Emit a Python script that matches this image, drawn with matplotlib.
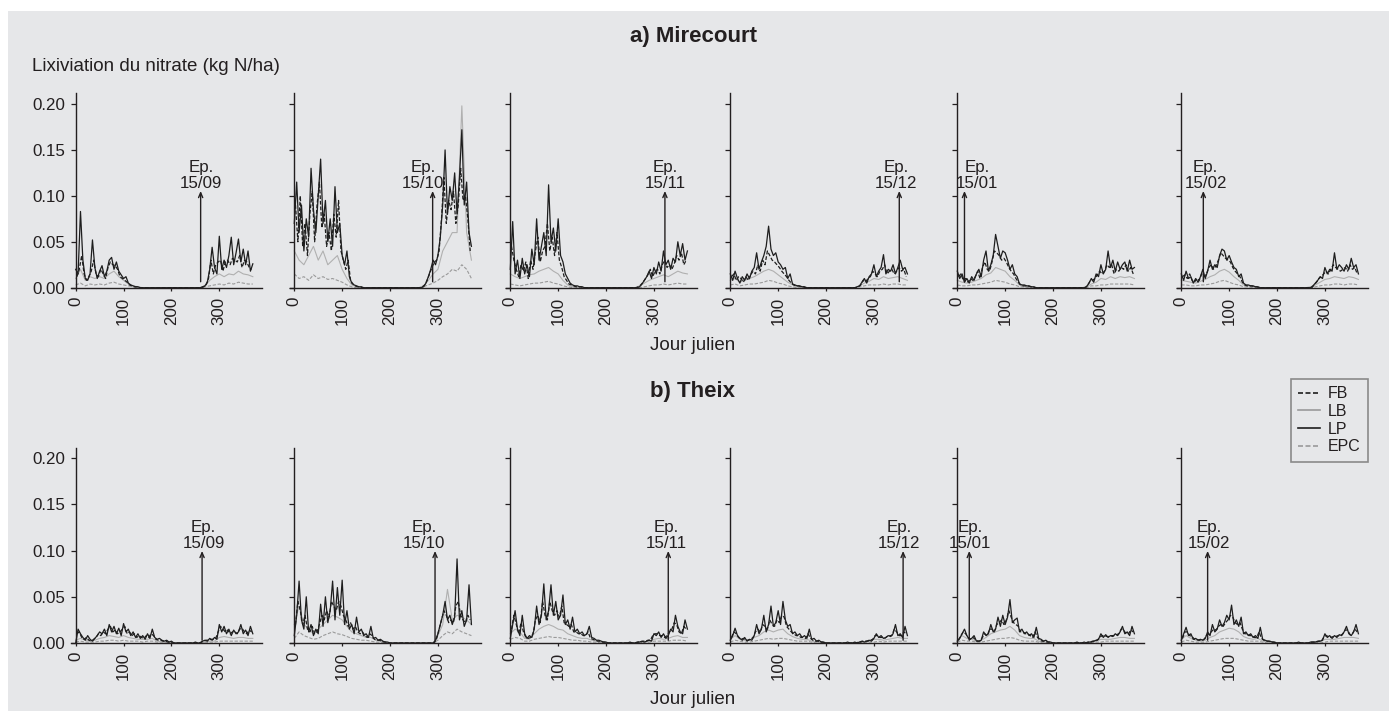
import numpy as np
import matplotlib.pyplot as plt
from matplotlib.axes import Axes
from matplotlib.lines import Line2D
from matplotlib.patches import Rectangle

plt.rcParams['font.family'] = ['Liberation Sans', 'DejaVu Sans']

# leaching values in thousandths of kg N/ha
# LP and FB every 5 days (FB offset by 2.5 days), LB and EPC every 10 days
x5 = np.arange(0, 371, 5)
xfb = np.arange(2.5, 370, 5)
x10 = np.arange(0, 371, 10)

dates = ["15/09", "15/10", "15/11", "15/12", "15/01", "15/02"]

mir_lp = [
    [20, 15, 83, 30, 10, 8, 15, 52, 22, 10, 18, 24, 12, 18, 30, 33, 20, 28, 18, 14, 10, 12, 5, 3, 2, 1, 1]
    + [0] * 26 + [1, 2, 6, 20, 44, 22, 15, 56, 20, 30, 22, 35, 55, 25, 38, 53, 28, 42, 25, 40, 18, 26],
    [70, 115, 60, 90, 40, 75, 55, 130, 85, 60, 100, 140, 70, 95, 50, 75, 45, 110, 60, 70, 35, 25, 40, 12, 5, 3, 2, 1, 1]
    + [0] * 25 + [1, 5, 12, 20, 30, 25, 35, 55, 90, 150, 80, 110, 95, 125, 80, 120, 172, 90, 115, 60, 45],
    [20, 72, 15, 30, 10, 32, 15, 25, 12, 42, 25, 75, 30, 45, 60, 35, 112, 50, 65, 40, 75, 35, 28, 15, 10, 5, 3, 2, 2, 1, 1]
    + [0] * 23 + [1, 4, 8, 12, 18, 10, 22, 15, 28, 18, 40, 25, 30, 20, 32, 28, 50, 35, 48, 30, 40],
    [15, 8, 18, 10, 5, 12, 8, 15, 10, 18, 22, 38, 20, 28, 35, 45, 67, 42, 35, 38, 28, 25, 20, 22, 10, 15, 4, 3, 2, 2, 1, 1]
    + [0] * 21 + [1, 2, 6, 10, 5, 12, 15, 25, 12, 18, 22, 36, 15, 20, 18, 25, 15, 22, 30, 20, 22, 15],
    [18, 10, 15, 6, 10, 5, 12, 8, 15, 20, 12, 30, 40, 18, 25, 35, 58, 45, 32, 40, 38, 30, 20, 25, 15, 12, 4, 3, 3, 2, 2, 1, 1]
    + [0] * 21 + [1, 5, 10, 6, 15, 12, 25, 15, 20, 40, 22, 30, 18, 28, 20, 25, 28, 18, 30, 20, 22],
    [15, 8, 18, 10, 12, 5, 10, 6, 12, 20, 10, 18, 30, 20, 25, 22, 35, 42, 40, 30, 35, 28, 22, 20, 12, 15, 5, 3, 3, 2, 2, 1, 1]
    + [0] * 22 + [2, 5, 8, 12, 10, 22, 15, 20, 18, 38, 20, 25, 22, 18, 25, 20, 32, 22, 25, 15],
]
mir_fb = [
    [12, 20, 35, 15, 8, 12, 18, 30, 15, 12, 20, 15, 10, 22, 28, 25, 24, 20, 12, 10, 8, 6, 3, 2, 1, 1]
    + [0] * 27 + [1, 3, 10, 30, 15, 25, 28, 30, 18, 28, 30, 25, 32, 30, 28, 35, 22, 30, 28, 22, 20],
    [90, 50, 100, 45, 70, 35, 80, 105, 50, 90, 115, 65, 80, 45, 60, 40, 80, 55, 95, 40, 30, 20, 30, 8, 4, 2, 1, 1]
    + [0] * 25 + [1, 3, 8, 15, 22, 28, 30, 40, 75, 120, 70, 95, 85, 105, 70, 90, 130, 95, 100, 75, 40],
    [45, 30, 20, 12, 25, 18, 28, 10, 30, 20, 40, 55, 28, 40, 45, 70, 40, 55, 35, 60, 30, 22, 12, 8, 4, 3, 2, 1, 1, 1]
    + [0] * 23 + [1, 3, 6, 10, 14, 20, 12, 18, 20, 15, 25, 30, 22, 25, 20, 26, 35, 30, 38, 25, 30],
    [12, 15, 8, 12, 10, 6, 12, 8, 14, 18, 15, 25, 18, 30, 25, 40, 35, 30, 28, 25, 22, 18, 15, 12, 8, 5, 3, 2, 2, 1, 1]
    + [0] * 22 + [1, 3, 8, 6, 10, 12, 18, 15, 12, 18, 20, 25, 15, 18, 20, 15, 18, 22, 18, 20, 12],
    [12, 15, 8, 10, 6, 10, 8, 12, 18, 10, 22, 28, 20, 18, 28, 40, 38, 35, 30, 32, 28, 22, 18, 15, 10, 6, 3, 2, 2, 2, 1, 1]
    + [0] * 22 + [3, 7, 8, 10, 14, 18, 15, 18, 25, 22, 25, 15, 20, 18, 22, 20, 25, 18, 22, 15],
    [12, 14, 10, 15, 8, 6, 10, 8, 15, 12, 15, 22, 25, 20, 24, 30, 38, 35, 32, 30, 28, 22, 18, 15, 12, 6, 3, 2, 2, 2, 1, 1]
    + [0] * 23 + [3, 6, 10, 12, 15, 18, 15, 20, 25, 22, 20, 18, 20, 22, 18, 25, 20, 22, 15],
]
mir_lb = [
    [10, 20, 8, 12, 10, 12, 10, 15, 18, 12, 8, 4, 2, 1] + [0] * 13 + [2, 8, 12, 15, 12, 15, 14, 18, 15, 14, 12],
    [40, 30, 25, 35, 45, 30, 40, 25, 30, 35, 20, 10, 3, 1] + [0] * 13 + [2, 8, 15, 20, 40, 50, 60, 60, 198, 60, 30],
    [15, 12, 10, 12, 14, 15, 18, 20, 22, 18, 15, 8, 3, 1] + [0] * 13 + [2, 5, 8, 10, 12, 14, 12, 15, 18, 16, 15],
    [8, 10, 6, 8, 10, 12, 15, 18, 20, 18, 14, 10, 6, 3, 1] + [0] * 12 + [2, 5, 7, 10, 9, 12, 10, 11, 12, 10, 8],
    [8, 6, 5, 6, 8, 10, 14, 16, 22, 20, 18, 12, 8, 3, 2, 1] + [0] * 11 + [1, 4, 6, 10, 9, 12, 10, 12, 11, 12, 10],
    [8, 7, 6, 5, 7, 9, 12, 14, 18, 20, 17, 12, 8, 3, 2, 1] + [0] * 11 + [1, 3, 6, 9, 10, 12, 11, 10, 12, 11, 9],
]
mir_epc = [
    [3, 5, 2, 4, 3, 4, 3, 5, 6, 4, 3, 2, 1, 0] + [0] * 13 + [1, 2, 3, 4, 3, 5, 4, 6, 5, 4, 4],
    [15, 10, 12, 8, 14, 10, 12, 9, 10, 8, 6, 3, 1, 0] + [0] * 13 + [1, 3, 5, 8, 12, 15, 20, 18, 25, 20, 10],
    [4, 3, 2, 3, 4, 5, 5, 6, 7, 5, 4, 2, 1, 0] + [0] * 13 + [0, 1, 2, 3, 3, 4, 3, 4, 5, 4, 4],
    [3, 4, 2, 3, 4, 4, 5, 6, 8, 7, 5, 4, 2, 1, 0] + [0] * 12 + [1, 2, 3, 3, 3, 4, 3, 4, 4, 3, 3],
    [3, 2, 2, 3, 3, 4, 5, 6, 8, 7, 6, 4, 3, 1, 1, 0] + [0] * 11 + [0, 2, 2, 3, 3, 4, 4, 4, 4, 4, 3],
    [3, 3, 2, 2, 3, 3, 4, 5, 7, 8, 6, 4, 3, 1, 1, 0] + [0] * 11 + [0, 1, 2, 3, 3, 4, 4, 3, 4, 4, 3],
]

the_lp = [
    [0, 15, 10, 6, 3, 8, 4, 2, 5, 8, 12, 10, 15, 8, 20, 12, 18, 10, 16, 8, 21, 12, 15, 8, 12, 6, 10, 5, 8, 4,
     10, 5, 15, 6, 4, 5, 3, 2, 3, 1, 2]
    + [0] * 9 + [1, 0, 0, 2, 3, 2, 5, 3, 6, 4, 20, 12, 18, 10, 15, 8, 14, 10, 12, 20, 10, 14, 8, 18, 10],
    [8, 30, 67, 25, 15, 50, 12, 20, 8, 15, 10, 42, 18, 50, 22, 35, 67, 25, 60, 30, 68, 20, 35, 15, 20, 10, 28, 12,
     15, 8, 10, 6, 18, 5, 6, 3, 4, 2, 1, 1]
    + [0] * 19 + [3, 10, 20, 30, 45, 25, 30, 20, 28, 91, 25, 35, 18, 25, 63, 20],
    [5, 20, 35, 15, 8, 30, 10, 5, 8, 6, 15, 40, 20, 30, 64, 25, 35, 63, 30, 45, 25, 30, 52, 20, 25, 15, 28, 12, 15,
     10, 12, 8, 10, 18, 6, 5, 3, 3, 2, 1, 1]
    + [0] * 9 + [1, 0, 0, 1, 1, 2, 1, 2, 3, 2, 10, 8, 12, 6, 10, 5, 8, 15, 12, 30, 18, 12, 10, 25, 15],
    [3, 8, 16, 8, 5, 3, 6, 2, 4, 3, 8, 20, 10, 15, 30, 12, 20, 40, 18, 22, 35, 20, 45, 25, 18, 20, 10, 12, 8, 10,
     6, 8, 5, 15, 4, 5, 2, 3, 1, 1]
    + [0] * 9 + [1, 0, 0, 1, 0, 1, 2, 1, 2, 3, 2, 5, 10, 6, 8, 5, 6, 8, 7, 10, 20, 8, 10, 6, 18, 8],
    [2, 5, 10, 15, 8, 4, 5, 8, 2, 2, 3, 12, 8, 10, 20, 12, 15, 28, 18, 30, 20, 28, 47, 22, 25, 27, 12, 15, 10, 12,
     8, 10, 6, 17, 5, 4, 2, 3, 1, 1]
    + [0] * 10 + [1, 0, 0, 1, 0, 1, 1, 2, 3, 4, 10, 6, 9, 6, 8, 7, 10, 8, 12, 18, 10, 12, 8, 18, 10],
    [3, 10, 17, 8, 10, 4, 5, 3, 4, 3, 5, 12, 8, 20, 12, 15, 25, 18, 22, 30, 25, 41, 20, 25, 18, 28, 10, 12, 8, 10,
     6, 8, 5, 17, 4, 3, 2, 2, 1, 1]
    + [0] * 9 + [1, 0, 0, 0, 0] + [1, 1, 1, 2, 2, 3, 10, 6, 8, 5, 8, 6, 9, 8, 12, 18, 10, 8, 12, 20, 10],
]
the_fb = [
    [10, 12, 6, 4, 6, 3, 2, 4, 6, 10, 8, 12, 10, 15, 18, 12, 14, 10, 12, 15, 18, 10, 12, 8, 10, 6, 8, 6, 5, 8,
     6, 10, 8, 4, 3, 3, 2, 2, 1, 1]
    + [0] * 12 + [1, 2, 3, 3, 4, 4, 5, 12, 18, 15, 12, 14, 10, 12, 12, 10, 15, 16, 12, 10, 14, 12],
    [20, 45, 35, 20, 30, 15, 12, 18, 10, 12, 20, 30, 25, 35, 28, 45, 40, 35, 45, 40, 30, 25, 18, 22, 15, 18, 12,
     10, 12, 8, 6, 10, 8, 4, 3, 3, 2, 1, 1]
    + [0] * 20 + [5, 15, 25, 35, 30, 22, 25, 22, 40, 45, 30, 25, 22, 30, 25],
    [15, 30, 20, 10, 22, 12, 6, 5, 6, 10, 25, 30, 22, 45, 30, 25, 45, 35, 30, 35, 28, 40, 22, 20, 18, 20, 12, 12,
     10, 10, 8, 8, 12, 5, 4, 3, 2, 2, 1, 1]
    + [0] * 13 + [1, 1, 2, 2, 3, 3, 8, 10, 10, 8, 8, 6, 8, 12, 15, 22, 20, 12, 10, 18, 15],
    [6, 12, 10, 6, 4, 5, 3, 3, 4, 6, 12, 15, 12, 20, 18, 15, 25, 20, 18, 25, 22, 30, 28, 18, 15, 12, 10, 8, 8, 6,
     6, 5, 10, 5, 3, 2, 2, 1, 1]
    + [0] * 14 + [1, 1, 2, 2, 2, 3, 4, 8, 8, 6, 6, 5, 7, 8, 8, 15, 12, 8, 8, 12, 10],
    [3, 8, 12, 10, 6, 4, 6, 4, 2, 2, 6, 10, 8, 15, 15, 12, 20, 22, 25, 20, 25, 35, 28, 22, 20, 18, 12, 12, 10, 10,
     8, 6, 12, 6, 3, 2, 2, 1, 1]
    + [0] * 15 + [1, 1, 2, 2, 3, 6, 8, 8, 7, 7, 8, 8, 9, 10, 15, 14, 10, 10, 14, 12],
    [5, 12, 12, 8, 7, 4, 4, 3, 3, 4, 8, 10, 12, 15, 14, 18, 20, 18, 22, 25, 30, 28, 22, 20, 22, 15, 10, 10, 8, 8,
     6, 6, 12, 5, 3, 2, 2, 1, 1]
    + [0] * 15 + [1, 1, 1, 2, 2, 6, 8, 7, 6, 7, 7, 8, 8, 10, 14, 14, 9, 10, 15, 12],
]
the_lb = [
    [3, 5, 3, 2, 3, 5, 6, 8, 7, 6, 8, 6, 5, 4, 4, 4, 5, 2, 1, 1, 0] + [0] * 6 + [1, 2, 2, 6, 7, 6, 5, 6, 6, 5, 5],
    [20, 40, 20, 15, 10, 15, 20, 25, 30, 28, 25, 18, 12, 10, 8, 6, 6, 3, 2, 1] + [0] * 10 + [8, 20, 58, 25, 30, 28, 25, 20],
    [10, 15, 12, 5, 4, 10, 15, 18, 20, 18, 15, 14, 10, 8, 6, 5, 5, 3, 2, 1, 0] + [0] * 6 + [1, 1, 2, 4, 5, 4, 5, 7, 8, 6, 6],
    [4, 8, 4, 3, 3, 6, 8, 12, 14, 12, 14, 15, 10, 7, 5, 4, 4, 2, 1, 1, 0] + [0] * 6 + [1, 1, 2, 4, 4, 3, 4, 5, 6, 5, 5],
    [3, 8, 5, 4, 2, 3, 6, 10, 12, 14, 15, 18, 14, 8, 6, 5, 5, 2, 1, 1, 0] + [0] * 6 + [0, 1, 2, 4, 4, 4, 5, 6, 6, 5, 5],
    [4, 8, 5, 3, 2, 3, 6, 8, 12, 14, 16, 15, 12, 7, 5, 4, 5, 2, 1, 1, 0] + [0] * 6 + [0, 1, 1, 4, 4, 4, 5, 6, 6, 6, 5],
]
the_epc = [
    [1, 2, 1, 1, 1, 2, 2, 3, 3, 2, 3, 2, 2, 2, 1, 2, 2, 1, 1, 0, 0] + [0] * 6 + [0, 1, 1, 2, 2, 2, 2, 2, 2, 2, 2],
    [5, 12, 8, 6, 4, 5, 8, 10, 12, 10, 9, 7, 5, 4, 3, 3, 2, 1, 1, 0] + [0] * 10 + [3, 8, 12, 10, 15, 12, 10, 8],
    [4, 6, 5, 2, 2, 4, 5, 6, 7, 6, 6, 5, 4, 3, 3, 2, 2, 1, 1, 0, 0] + [0] * 6 + [0, 0, 1, 2, 2, 2, 2, 3, 3, 3, 2],
    [1, 3, 2, 1, 1, 2, 3, 4, 5, 4, 5, 5, 4, 3, 2, 2, 2, 1, 0, 0, 0] + [0] * 6 + [0, 0, 1, 1, 2, 1, 2, 2, 2, 2, 2],
    [1, 3, 2, 2, 1, 1, 2, 3, 4, 5, 5, 6, 5, 3, 2, 2, 2, 1, 0, 0, 0] + [0] * 6 + [0, 0, 1, 1, 2, 2, 2, 2, 2, 2, 2],
    [1, 3, 2, 1, 1, 1, 2, 3, 4, 5, 5, 5, 4, 3, 2, 2, 2, 1, 0, 0, 0] + [0] * 6 + [0, 0, 0, 1, 2, 2, 2, 2, 2, 2, 2],
]

# sowing date (arrow) and label position, in julian days
mir_arrow_day = [261, 289, 323, 353, 15, 46]
mir_text_day = [262, 269, 323, 347, 42, 51]
the_arrow_day = [264, 294, 330, 361, 25, 55]
the_text_day = [267, 271, 326, 352, 27, 58]

W, H = 1389, 711
BG = "#e6e7e9"
INK = "#231f20"
DARK = "#1e1e1e"
GREY = "#9a9a9a"
LIGHT = "#b0b0b0"
PX_PER_DAY = 0.4787
PANEL_X0 = [75.7, 294.3, 510.3, 730.3, 957.3, 1181.3]


def panel_axes(fig, x0: float, bottom: float, top: float, ytop: float) -> Axes:
    left = x0 - 10 * PX_PER_DAY
    ax = fig.add_axes([left / W, 1 - bottom / H, 400 * PX_PER_DAY / W, (bottom - top) / H])
    ax.set_facecolor("none")
    ax.set_xlim(-10, 390)
    ax.set_ylim(0, ytop)
    for side in ("top", "right"):
        ax.spines[side].set_visible(False)
    ax.spines["left"].set_position(("data", 0))
    for side in ("left", "bottom"):
        ax.spines[side].set_color(INK)
        ax.spines[side].set_linewidth(1.0)
    ax.set_xticks([0, 100, 200, 300])
    ax.set_yticks([0, 0.05, 0.10, 0.15, 0.20])
    ax.set_yticklabels(["0.00", "0.05", "0.10", "0.15", "0.20"])
    ax.tick_params(axis="x", length=2.5, width=0.9, pad=4, labelsize=12.2,
                   labelrotation=90, colors=INK)
    ax.tick_params(axis="y", length=3.4, width=0.9, pad=4, labelsize=12.2, colors=INK)
    return ax


def draw_series(ax: Axes, lp, fb, lb, epc) -> None:
    ax.plot(x10, np.asarray(epc) / 1000, color=GREY, lw=0.8, ls=(0, (3, 1.5)))
    ax.plot(x10, np.asarray(lb) / 1000, color=LIGHT, lw=0.8)
    ax.plot(xfb, np.asarray(fb) / 1000, color=DARK, lw=0.9, ls=(0, (3, 1.5)))
    ax.plot(x5, np.asarray(lp) / 1000, color=DARK, lw=0.9)


def sowing_arrow(ax: Axes, day: float, text_day: float, label: str, tip: float, base: float) -> None:
    ax.annotate("", xy=(day, tip), xytext=(day, base),
                arrowprops=dict(arrowstyle="->,head_length=0.35,head_width=0.15",
                                lw=1.0, color=INK, shrinkA=0, shrinkB=0))
    ax.text(text_day, tip, "Ep.\n" + label, ha="center", va="bottom",
            fontsize=12.2, linespacing=1.05, color=INK)


fig = plt.figure(figsize=(W / 100, H / 100), dpi=100, facecolor="white")
fig.add_artist(Rectangle((8 / W, 0), 1, 1 - 11 / H, transform=fig.transFigure,
                         facecolor=BG, edgecolor="none", zorder=-10))

rows = [
    (287.7, 92.7, 0.2123, mir_lp, mir_fb, mir_lb, mir_epc, mir_arrow_day, mir_text_day, 0.1053, 0.0065),
    (643.0, 448.3, 0.2107, the_lp, the_fb, the_lb, the_epc, the_arrow_day, the_text_day, 0.0996, 0.003),
]
for bottom, top, ytop, lps, fbs, lbs, epcs, arrows, texts, tip, base in rows:
    for i, x0 in enumerate(PANEL_X0):
        ax = panel_axes(fig, x0, bottom, top, ytop)
        draw_series(ax, lps[i], fbs[i], lbs[i], epcs[i])
        sowing_arrow(ax, arrows[i], texts[i], dates[i], tip, base)
        if i > 0:
            ax.tick_params(axis="y", labelleft=False)

fig.text(693 / W, 1 - 36.7 / H, "a) Mirecourt", ha="center", va="center",
         fontsize=16, fontweight="bold", color=INK)
fig.text(693 / W, 1 - 391.7 / H, "b) Theix", ha="center", va="center",
         fontsize=16, fontweight="bold", color=INK)
fig.text(32.3 / W, 1 - 66.7 / H, "Lixiviation du nitrate (kg N/ha)", ha="left", va="center",
         fontsize=13.5, color=INK)
fig.text(693 / W, 1 - 346 / H, "Jour julien", ha="center", va="center", fontsize=13.5, color=INK)
fig.text(693 / W, 1 - 700 / H, "Jour julien", ha="center", va="center", fontsize=13.5, color=INK)

handles = [
    Line2D([], [], color=DARK, lw=1.2, ls=(0, (3, 1.5))),
    Line2D([], [], color=GREY, lw=1.2),
    Line2D([], [], color=DARK, lw=1.2),
    Line2D([], [], color=GREY, lw=1.2, ls=(0, (3, 1.5))),
]
leg = fig.legend(handles, ["FB", "LB", "LP", "EPC"], loc="upper right",
                 bbox_to_anchor=(1368 / W, 1 - 379 / H), borderaxespad=0, fancybox=False,
                 framealpha=1, facecolor=BG, edgecolor="#8a8a8a", fontsize=11.5,
                 handlelength=1.4, handletextpad=0.5, labelspacing=0.17, borderpad=0.45)
leg.get_frame().set_linewidth(1.2)
for t in leg.get_texts():
    t.set_color(INK)

fig.savefig("out.png", dpi=100, facecolor=fig.get_facecolor())
